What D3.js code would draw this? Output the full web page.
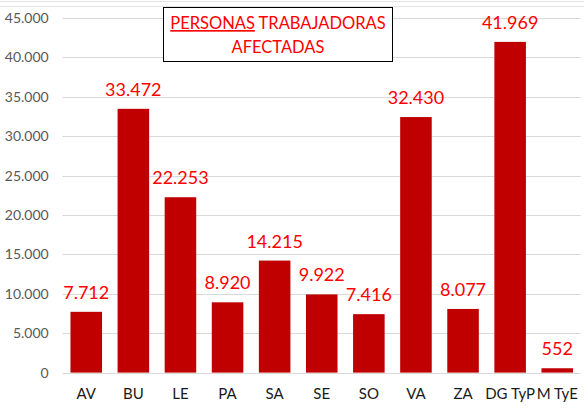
<!DOCTYPE html>
<html>
<head>
<meta charset="utf-8">
<script src="https://cdn.jsdelivr.net/npm/d3@7"></script>
<style>
  body { margin: 0; background: #fff; }
  svg { display: block; font-family: Lato, "Noto Sans", sans-serif; }
</style>
</head>
<body>
<svg width="584" height="409"></svg>
<script>
// provincias / servicios
const categories = ["AV", "BU", "LE", "PA", "SA", "SE", "SO", "VA", "ZA", "DG TyP", "M TyE"];
// personas trabajadoras afectadas
const values = [7712, 33472, 22253, 8920, 14215, 9922, 7416, 32430, 8077, 41969, 552];
const yTicks = [0, 5000, 10000, 15000, 20000, 25000, 30000, 35000, 40000, 45000];

let svg = d3.select("svg"),
    width = +svg.attr("width"),
    height = +svg.attr("height");

const plotLeft = 62.7, plotRight = 580.8, plotTop = 18, plotBottom = 372.6;

const fmt = d3.formatLocale({decimal: ",", thousands: ".", grouping: [3], currency: ["", "€"]}).format(",d");

let x = d3.scaleBand()
    .domain(categories)
    .range([plotLeft, plotRight])
    .paddingInner(0.33)
    .paddingOuter(0.165);

let y = d3.scaleLinear()
    .domain([0, 45000])
    .range([plotBottom, plotTop]);

// thin lines at the very top
svg.append("g").selectAll("line")
    .data([1, 6])
    .join("line")
    .attr("x1", 0).attr("x2", width)
    .attr("y1", d => d + 0.5).attr("y2", d => d + 0.5)
    .attr("stroke", "#e3e3e3");

// gridlines
svg.append("g")
    .selectAll("line")
    .data(yTicks)
    .join("line")
    .attr("x1", plotLeft).attr("x2", plotRight)
    .attr("y1", d => Math.round(y(d)) + 0.5)
    .attr("y2", d => Math.round(y(d)) + 0.5)
    .attr("stroke", "#d9d9d9")
    .attr("stroke-width", 1);

// y axis labels
let yAxis = svg.append("g")
    .attr("transform", "translate(" + (plotLeft - 14) + ",0)")
    .call(d3.axisLeft(y).tickValues(yTicks).tickFormat(fmt).tickSize(0).tickPadding(0));
yAxis.select(".domain").remove();
yAxis.selectAll("text")
    .attr("font-family", "Lato, 'Noto Sans', sans-serif")
    .attr("font-size", 14)
    .attr("fill", "#595959");

// x axis labels
let xAxis = svg.append("g")
    .attr("transform", "translate(0," + plotBottom + ")")
    .call(d3.axisBottom(x).tickSize(0).tickPadding(16));
xAxis.select(".domain").remove();
xAxis.selectAll("text")
    .attr("font-family", "Lato, 'Noto Sans', sans-serif")
    .attr("font-size", 15)
    .attr("fill", "#1a1a1a");

// bars
svg.append("g")
    .selectAll("rect")
    .data(values)
    .join("rect")
    .attr("x", (d, i) => x(categories[i]))
    .attr("width", x.bandwidth())
    .attr("y", d => y(d))
    .attr("height", d => y(0) - y(d))
    .attr("fill", "#c00000");

// value labels
svg.append("g")
    .selectAll("text")
    .data(values)
    .join("text")
    .attr("x", (d, i) => x(categories[i]) + x.bandwidth() / 2)
    .attr("y", d => y(d) - 13)
    .attr("text-anchor", "middle")
    .attr("font-size", 18)
    .attr("fill", "#ff0000")
    .text(d => fmt(d));

// title box
let title = svg.append("g");
title.append("rect")
    .attr("x", 163.5).attr("y", 7.5)
    .attr("width", 229).attr("height", 54)
    .attr("fill", "#fff")
    .attr("stroke", "#000")
    .attr("stroke-width", 1);
let t1 = title.append("text")
    .attr("x", 278).attr("y", 29)
    .attr("text-anchor", "middle")
    .attr("font-size", 16.5)
    .attr("fill", "#ff0000");
t1.append("tspan").attr("text-decoration", "underline").text("PERSONAS");
t1.append("tspan").text(" TRABAJADORAS");
title.append("text")
    .attr("x", 278).attr("y", 53)
    .attr("text-anchor", "middle")
    .attr("font-size", 16.5)
    .attr("fill", "#ff0000")
    .text("AFECTADAS");
</script>
</body>
</html>
